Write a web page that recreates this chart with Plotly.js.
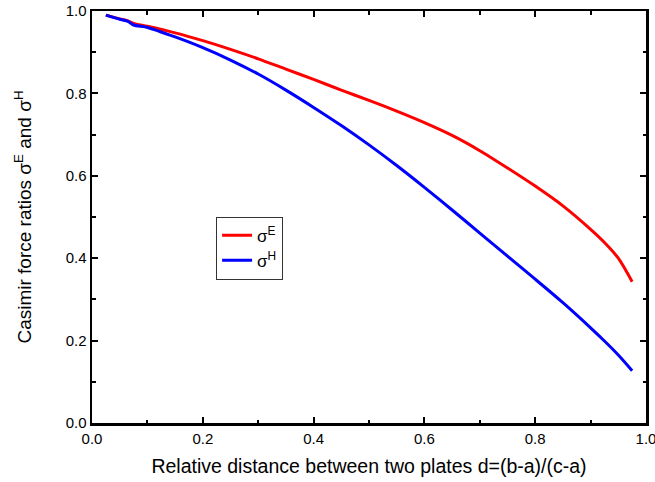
<!DOCTYPE html>
<html>
<head>
<meta charset="utf-8">
<script src="https://cdn.plot.ly/plotly-3.0.1.min.js"></script>
<style>html,body{margin:0;padding:0;background:#fff;}#chart{width:655px;height:482px;}</style>
</head>
<body>
<div id="chart"></div>
<script>
const distance = [0.025, 0.05, 0.065, 0.075, 0.1, 0.15, 0.2, 0.25, 0.3, 0.35, 0.4, 0.45, 0.5, 0.55, 0.6, 0.65, 0.7, 0.75, 0.8, 0.85, 0.9, 0.925, 0.95, 0.975];
const sigmaE = [0.990, 0.981, 0.976, 0.970, 0.963, 0.947, 0.928, 0.907, 0.884, 0.859, 0.834, 0.808, 0.783, 0.757, 0.729, 0.698, 0.661, 0.619, 0.575, 0.527, 0.470, 0.438, 0.400, 0.343];
const sigmaH = [0.990, 0.980, 0.975, 0.966, 0.960, 0.937, 0.911, 0.881, 0.847, 0.808, 0.766, 0.722, 0.675, 0.625, 0.572, 0.517, 0.461, 0.405, 0.349, 0.292, 0.231, 0.199, 0.165, 0.127];
const tickValues = [0, 0.2, 0.4, 0.6, 0.8, 1.0];
const tickLabels = ['0.0', '0.2', '0.4', '0.6', '0.8', '1.0'];
const seriesNames = ['σ<sup>E</sup>', 'σ<sup>H</sup>'];
const xTitle = 'Relative distance between two plates d=(b-a)/(c-a)';
const yTitle = 'Casimir force ratios σ<sup>E</sup> and σ<sup>H</sup>';

const font = 'Liberation Sans, Arial, sans-serif';
const traces = [
  {x: distance, y: sigmaE, name: seriesNames[0], type: 'scatter', mode: 'lines', line: {color: '#ff0000', width: 3, shape: 'spline', smoothing: 0.7}},
  {x: distance, y: sigmaH, name: seriesNames[1], type: 'scatter', mode: 'lines', line: {color: '#0000ff', width: 3, shape: 'spline', smoothing: 0.7}}
];
const axisCommon = {
  showgrid: false, zeroline: false, showline: true, linecolor: '#000', linewidth: 2.5,
  mirror: 'allticks', ticks: 'inside', ticklen: 6, tickwidth: 2, tickcolor: '#000',
  tickfont: {family: font, size: 15, color: '#000'},
  tickmode: 'array', tickvals: tickValues, ticktext: tickLabels,
  ticklabeloverflow: 'allow',
  minor: {ticks: 'inside', ticklen: 3.5, tickwidth: 2, tickcolor: '#000', tickmode: 'linear', tick0: 0, dtick: 0.1}
};
const layout = {
  width: 655, height: 482,
  margin: {l: 92, r: 9, t: 11, b: 59},
  paper_bgcolor: '#fff', plot_bgcolor: '#fff',
  font: {family: font, color: '#000'},
  xaxis: Object.assign({}, axisCommon, {
    range: [0, 1],
    title: {text: xTitle, font: {family: font, size: 19.5, color: '#000'}, standoff: 14}
  }),
  yaxis: Object.assign({}, axisCommon, {
    range: [0, 1],
    title: {text: yTitle, font: {family: font, size: 19, color: '#000'}, standoff: 29}
  }),
  showlegend: true,
  legend: {
    x: 0.224, y: 0.501, xanchor: 'left', yanchor: 'top',
    bgcolor: '#fff', bordercolor: '#333', borderwidth: 1,
    font: {family: font, size: 17, color: '#000'},
    tracegroupgap: 0
  }
};
Plotly.newPlot('chart', traces, layout, {displayModeBar: false, staticPlot: true});
</script>
</body>
</html>
